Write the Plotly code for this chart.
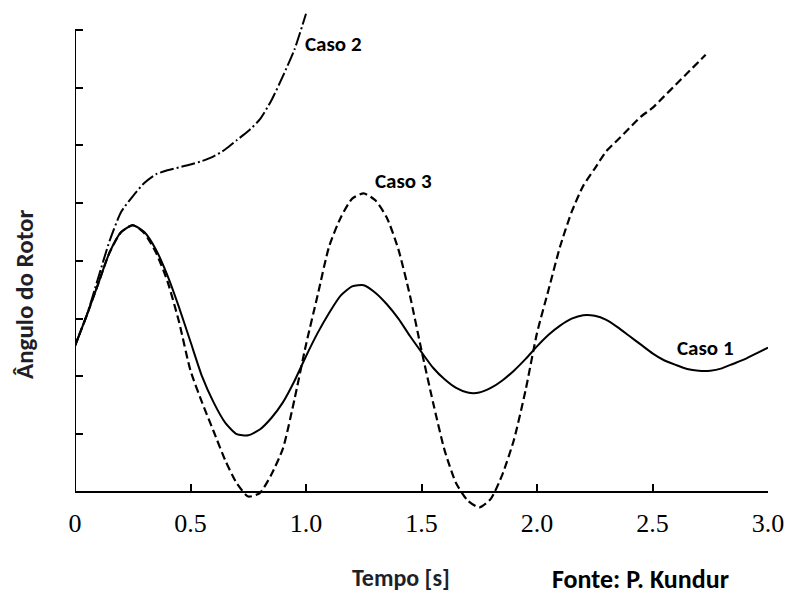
import plotly.graph_objects as go

# Time axis (s)
t_caso1 = [0, 0.05, 0.1, 0.15, 0.2, 0.25, 0.3, 0.35, 0.4, 0.45, 0.5, 0.55, 0.6, 0.65, 0.7, 0.75,
           0.8, 0.85, 0.9, 0.95, 1.0, 1.05, 1.1, 1.15, 1.2, 1.25, 1.3, 1.35, 1.4, 1.45, 1.5,
           1.55, 1.6, 1.65, 1.7, 1.75, 1.8, 1.85, 1.9, 1.95, 2.0, 2.05, 2.1, 2.15, 2.2, 2.25,
           2.3, 2.35, 2.4, 2.45, 2.5, 2.55, 2.6, 2.65, 2.7, 2.75, 2.8, 2.85, 2.9, 2.95, 3.0]
caso1 = [2.53, 3.05, 3.6, 4.15, 4.5, 4.62, 4.5, 4.2, 3.75, 3.2, 2.6, 2.0, 1.55, 1.2, 1.0, 0.98,
         1.08, 1.28, 1.55, 1.92, 2.35, 2.75, 3.1, 3.4, 3.56, 3.58, 3.45, 3.25, 3.0, 2.7, 2.42,
         2.15, 1.95, 1.8, 1.72, 1.72, 1.8, 1.93, 2.1, 2.3, 2.52, 2.72, 2.88, 3.0, 3.06, 3.05,
         2.98, 2.85, 2.7, 2.55, 2.4, 2.28, 2.2, 2.13, 2.1, 2.1, 2.14, 2.22, 2.3, 2.4, 2.5]

t_caso2 = [0, 0.05, 0.1, 0.15, 0.2, 0.25, 0.3, 0.35, 0.4, 0.45, 0.5, 0.55, 0.6, 0.65, 0.7,
           0.75, 0.8, 0.85, 0.9, 0.95, 1.0]
caso2 = [2.53, 3.05, 3.7, 4.35, 4.85, 5.12, 5.35, 5.5, 5.57, 5.62, 5.67, 5.73, 5.81, 5.93, 6.09,
         6.25, 6.45, 6.78, 7.2, 7.66, 8.28]

t_caso3 = [0, 0.05, 0.1, 0.15, 0.2, 0.25, 0.3, 0.35, 0.4, 0.45, 0.5, 0.55, 0.6, 0.65, 0.7, 0.75,
           0.8, 0.85, 0.9, 0.95, 1.0, 1.05, 1.1, 1.15, 1.2, 1.25, 1.3, 1.35, 1.4, 1.45, 1.5,
           1.55, 1.6, 1.65, 1.7, 1.75, 1.8, 1.85, 1.9, 1.95, 2.0, 2.05, 2.1, 2.15, 2.2, 2.25,
           2.3, 2.35, 2.4, 2.45, 2.5, 2.55, 2.6, 2.65, 2.7, 2.73]
caso3 = [2.53, 3.05, 3.6, 4.15, 4.5, 4.62, 4.48, 4.15, 3.65, 2.95, 2.1, 1.55, 1.05, 0.55, 0.15, -0.08,
         -0.02, 0.3, 0.75, 1.6, 2.55, 3.4, 4.25, 4.75, 5.08, 5.17, 5.05, 4.75, 4.2, 3.4, 2.45,
         1.55, 0.72, 0.15, -0.15, -0.27, -0.12, 0.3, 0.9, 1.75, 2.75, 3.5, 4.25, 4.85, 5.3, 5.6,
         5.9, 6.1, 6.3, 6.5, 6.65, 6.85, 7.05, 7.25, 7.45, 7.57]

x_tickvals = [0, 0.5, 1.0, 1.5, 2.0, 2.5, 3.0]
x_ticktext = ["0", "0.5", "1.0", "1.5", "2.0", "2.5", "3.0"]
y_tickvals = [1, 2, 3, 4, 5, 6, 7, 8]

labels = [("Caso 2", 1.12, 7.75), ("Caso 3", 1.42, 5.38), ("Caso 1", 2.73, 2.5)]

FONT_SANS = "Carlito, Lato, 'Open Sans', sans-serif"

fig = go.Figure()
fig.add_trace(go.Scatter(x=t_caso2, y=caso2, mode="lines",
                         line=dict(color="black", width=2, dash="14px,3px,2px,3px", shape="spline", smoothing=0.6)))
fig.add_trace(go.Scatter(x=t_caso3, y=caso3, mode="lines",
                         line=dict(color="black", width=2.2, dash="8px,4px", shape="spline", smoothing=0.6)))
fig.add_trace(go.Scatter(x=t_caso1, y=caso1, mode="lines",
                         line=dict(color="black", width=2, shape="spline", smoothing=0.6)))

ymin, ymax = -0.4, 8.45
fig.update_layout(
    width=790, height=594,
    margin=dict(l=75, r=22, t=4, b=79),
    paper_bgcolor="white", plot_bgcolor="white",
    showlegend=False,
    xaxis=dict(range=[0, 3.0], tickvals=x_tickvals, ticktext=x_ticktext,
               ticks="inside", ticklen=7, tickwidth=2, tickcolor="black",
               showline=True, linecolor="black", linewidth=2,
               showgrid=False, zeroline=False,
               anchor="free", position=(0 - ymin) / (ymax - ymin),
               ticklabelstandoff=8,
               tickfont=dict(family="'Liberation Serif', 'Times New Roman', serif", size=26, color="black")),
    yaxis=dict(range=[ymin, ymax], tickvals=y_tickvals, ticks="inside", ticklen=8,
               tickwidth=2, tickcolor="black", showticklabels=False,
               showline=False, showgrid=False, zeroline=False),
)

fig.add_shape(type="line", xref="x", yref="y", x0=0, x1=0, y0=0, y1=8,
              line=dict(color="black", width=2))

for text, tx, ty in labels:
    fig.add_annotation(x=tx, y=ty, xref="x", yref="y", text=f"<b>{text}</b>", showarrow=False,
                       xanchor="center", yanchor="middle",
                       font=dict(family=FONT_SANS, size=21, color="black"))

fig.add_annotation(x=(24 - 75) / 693, y=(515 - 294) / 511, xref="paper", yref="paper",
                   text="<b>Ângulo do Rotor</b>", textangle=-90, showarrow=False,
                   xanchor="center", yanchor="middle",
                   font=dict(family=FONT_SANS, size=25, color="#1f1f2a"))
fig.add_annotation(x=(401 - 75) / 693, y=(515 - 577) / 511, xref="paper", yref="paper",
                   text="<b>Tempo [s]</b>", showarrow=False,
                   xanchor="center", yanchor="middle",
                   font=dict(family=FONT_SANS, size=24, color="#1f1f2a"))
fig.add_annotation(x=(640 - 75) / 693, y=(515 - 579) / 511, xref="paper", yref="paper",
                   text="<b>Fonte: P. Kundur</b>", showarrow=False,
                   xanchor="center", yanchor="middle",
                   font=dict(family=FONT_SANS, size=26, color="black"))

fig.write_html("out.html", config={"displayModeBar": False},
               post_script="document.body.style.margin='0';")
